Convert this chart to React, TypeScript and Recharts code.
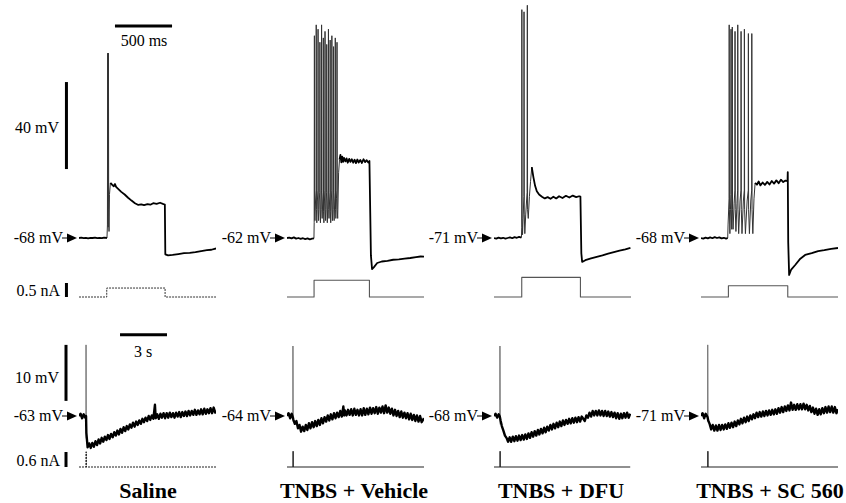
import { LineChart, Line, XAxis, YAxis, ReferenceLine } from "recharts";

type Pt = [number, number];

// ---------- labels ----------
const conditions = ["Saline", "TNBS + Vehicle", "TNBS + DFU", "TNBS + SC 560"];
const stepRest = [-68, -62, -71, -68]; // mV, step protocol (top row)
const slowRest = [-63, -64, -68, -71]; // mV, slow AHP protocol (bottom row)

// ---------- top row: 500 ms step, time ms / Vm mV ----------
const salinePre: Pt[] = [[0, -68], [20, -67.8], [40, -68.1], [60, -67.9], [80, -68.2], [100, -67.9], [120, -68], [140, -67.8], [160, -68.1], [180, -67.9], [200, -68.1], [220, -67.8], [245, -68]];
const salineSpikes: Pt[] = [[245, -68], [249, -62], [251, 17], [253, -58], [256, -63], [258, 17], [260, -55], [263, -65], [267, -48], [275, -42.7]];
const salinePost: Pt[] = [[275, -42.7], [290, -43.5], [305, -44.2], [315, -43.2], [325, -44.5], [345, -45.5], [370, -46.8], [400, -48], [430, -49.5], [460, -50.8], [490, -52], [520, -52.8], [545, -52.5], [570, -52.9], [600, -52.4], [625, -52.7], [650, -52], [680, -52.3], [710, -51.8], [740, -52.4], [752, -52.6], [756, -75.5], [780, -76], [820, -75.8], [870, -75.4], [920, -75], [970, -74.8], [1020, -74.5], [1070, -74], [1120, -73.6], [1160, -73.4], [1200, -72.8]];

const vehiclePre: Pt[] = [[0, -62], [20, -61.8], [40, -62.2], [60, -61.7], [80, -62.3], [100, -62], [120, -62.4], [140, -62.1], [160, -62.5], [180, -62.2], [200, -62.6], [220, -62.3], [236, -62.2]];
const vehicleSpikes: Pt[] = [[236, -62.2], [238, -55], [240, 31], [242, -50], [245, -54], [250, -45], [255, -40], [256, 36], [258, -49], [261, -55], [266, -45], [271, -40], [272, 34], [274, -49], [277, -54], [282, -45], [287, -41], [288, 28], [290, -49], [293, -55], [298, -45], [302, -40], [303, 36], [305, -49], [308, -53], [313, -45], [317, -41], [318, 30], [320, -50], [323, -55], [328, -45], [332, -40], [333, 33], [335, -49], [338, -54], [343, -45], [347, -41], [348, 27], [350, -49], [353, -55], [358, -45], [362, -40], [363, 34], [365, -49], [368, -53], [373, -45], [377, -41], [378, 29], [380, -50], [383, -55], [388, -45], [392, -40], [393, 31], [395, -49], [398, -54], [403, -45], [407, -40], [408, 26], [410, -49], [413, -54], [418, -45], [422, -41], [423, 30], [425, -49], [428, -53], [433, -44], [437, -40], [438, 28], [440, -49], [444, -53], [452, -32], [460, -26]];
const vehiclePost: Pt[] = [[460, -26], [468, -23.8], [476, -27.2], [484, -24.6], [492, -27], [500, -25.2], [512, -26.8], [522, -25.4], [532, -27.4], [545, -25.6], [556, -27], [568, -25.8], [580, -27.4], [592, -26], [604, -27.6], [616, -25.9], [628, -27.3], [642, -26.1], [656, -27.5], [670, -25.8], [684, -27.1], [698, -26.2], [712, -27.3], [722, -26.6], [735, -70], [745, -76.3], [760, -75.5], [790, -73.5], [830, -72.8], [880, -72.5], [930, -72], [980, -71.8], [1030, -71.5], [1080, -71.2], [1130, -70.8], [1170, -70.5], [1200, -70.6]];

const dfuPre: Pt[] = [[0, -71], [20, -71.3], [40, -70.8], [60, -71.2], [80, -70.9], [100, -71.3], [120, -71], [140, -70.7], [160, -71.1], [180, -70.6], [200, -70.9], [220, -70.5], [240, -70.8]];
const dfuSpikes: Pt[] = [[240, -70.8], [243, -66], [244, 34], [246, -62], [250, -69.5], [256, -60], [262, -52], [263, 33], [265, -60], [270, -69], [278, -60], [290, -50], [292, 36], [294, -58], [300, -62], [310, -52], [320, -45], [331, -38.4]];
const dfuPost: Pt[] = [[331, -38.4], [345, -43], [360, -47], [375, -49.5], [395, -51], [420, -52], [445, -52.8], [470, -52.2], [495, -53], [520, -52], [545, -52.8], [570, -51.8], [600, -52.6], [630, -51.6], [660, -52.4], [690, -51.5], [720, -52.2], [745, -51.8], [757, -52], [765, -78], [772, -82], [800, -81.2], [850, -80.4], [900, -79.7], [950, -79], [1000, -78.2], [1050, -77.5], [1100, -76.8], [1150, -76.2], [1195, -75.5]];

const sc560Pre: Pt[] = [[0, -68], [20, -68.3], [40, -67.8], [60, -68.2], [80, -67.7], [100, -68.1], [120, -67.6], [140, -68], [160, -67.7], [180, -68.2], [200, -67.9], [220, -68.3], [234, -68]];
const sc560Spikes: Pt[] = [[234, -68], [237, -62], [246, -50], [247, 30], [249, -55], [253, -66], [258, -55], [262, -48], [263, 28], [265, -55], [269, -64], [273, -50], [274, 29], [276, -55], [281, -64], [290, -52], [297, -46], [298, 27], [300, -55], [306, -65], [315, -52], [321, -46], [322, 30], [324, -55], [330, -66], [342, -51], [350, -46], [351, 27], [353, -55], [359, -66], [371, -51], [379, -46], [380, 28], [382, -55], [389, -66], [404, -51], [414, -46], [415, 26], [417, -55], [424, -66], [436, -51], [444, -46], [445, 26], [447, -55], [454, -66], [464, -50], [474, -42.7]];
const sc560Post: Pt[] = [[474, -42.7], [490, -43.5], [505, -42], [520, -43.8], [540, -42.5], [560, -43.6], [580, -42.2], [600, -43.4], [620, -41.8], [640, -43], [660, -41.5], [680, -42.8], [700, -41.2], [720, -42.3], [740, -41.6], [758, -41.8], [760, -37.7], [764, -70], [772, -85], [790, -82.5], [825, -80.4], [870, -77.5], [912, -75.8], [970, -75], [1026, -74], [1080, -73.6], [1140, -73], [1200, -72.6]];

// injected current, nA
const salineStep: Pt[] = [[0, 0], [243, 0], [243, 0.32], [754, 0.32], [754, 0], [1200, 0]];
const vehicleStep: Pt[] = [[0, 0], [237, 0], [237, 0.6], [722, 0.6], [722, 0], [1200, 0]];
const dfuStep: Pt[] = [[0, 0], [243, 0], [243, 0.7], [757, 0.7], [757, 0], [1200, 0]];
const sc560Step: Pt[] = [[0, 0], [240, 0], [240, 0.4], [760, 0.4], [760, 0], [1200, 0]];

// ---------- bottom row: slow AHP, time s / Vm mV ----------
const salineAhp: Pt[] = [[0, -63], [0.1, -62.6], [0.2, -63.4], [0.3, -62.7], [0.4, -63.3], [0.45, -63], [0.47, -66], [0.55, -68.6], [0.65, -67.9], [0.75, -68.7], [0.85, -67.8], [0.95, -68.5], [1.05, -67.5], [1.15, -68.2], [1.25, -67.2], [1.35, -67.9], [1.45, -66.9], [1.55, -67.6], [1.65, -66.7], [1.75, -67.3], [1.85, -66.4], [1.95, -67.1], [2.05, -66.2], [2.15, -66.8], [2.25, -65.9], [2.35, -66.5], [2.45, -65.6], [2.55, -66.3], [2.65, -65.3], [2.75, -66], [2.85, -65], [2.95, -65.7], [3.05, -64.8], [3.15, -65.4], [3.25, -64.5], [3.35, -65.1], [3.45, -64.2], [3.55, -64.9], [3.65, -64], [3.75, -64.6], [3.85, -63.8], [3.95, -64.4], [4.05, -63.5], [4.15, -64.1], [4.25, -63.3], [4.35, -63.9], [4.45, -63], [4.55, -63.7], [4.65, -62.9], [4.75, -63.5], [4.85, -61], [4.9, -63.4], [5.0, -62.7], [5.1, -63.5], [5.2, -62.6], [5.3, -63.3], [5.4, -62.5], [5.5, -63.4], [5.6, -62.5], [5.7, -63.3], [5.8, -62.4], [5.9, -63.2], [6.0, -62.5], [6.1, -63.3], [6.2, -62.4], [6.3, -63.1], [6.4, -62.3], [6.5, -63.2], [6.6, -62.3], [6.7, -63], [6.8, -62.2], [6.9, -63], [7.0, -62.1], [7.1, -62.9], [7.2, -62.1], [7.3, -62.8], [7.4, -61.9], [7.5, -62.8], [7.6, -62], [7.7, -62.7], [7.8, -61.8], [7.9, -62.7], [8.0, -61.7], [8.1, -62.6], [8.2, -61.8], [8.3, -62.5], [8.4, -61.6], [8.5, -62.5], [8.6, -61.5], [8.7, -62.4], [8.75, -62]];
const vehicleAhp: Pt[] = [[0, -64], [0.1, -63.5], [0.2, -64.4], [0.3, -63.6], [0.37, -64.2], [0.4, -64.6], [0.5, -65.4], [0.6, -64.9], [0.7, -66.2], [0.8, -65.6], [0.9, -66.8], [1.0, -65.9], [1.1, -66.7], [1.2, -65.6], [1.3, -66.5], [1.4, -65.3], [1.5, -66.2], [1.6, -65.1], [1.7, -66], [1.8, -64.9], [1.9, -65.8], [2.0, -64.7], [2.1, -65.6], [2.2, -64.4], [2.3, -65.3], [2.4, -64.2], [2.5, -65], [2.6, -63.9], [2.7, -64.8], [2.8, -63.7], [2.9, -64.6], [3.0, -63.5], [3.1, -64.4], [3.2, -63.4], [3.3, -64.2], [3.4, -63.1], [3.5, -64.1], [3.6, -62.3], [3.65, -63.9], [3.7, -63], [3.8, -63.9], [3.9, -62.9], [4.0, -63.8], [4.1, -62.8], [4.2, -63.9], [4.3, -62.7], [4.4, -63.8], [4.5, -62.9], [4.6, -63.9], [4.7, -62.8], [4.8, -63.9], [4.9, -62.6], [5.0, -63.8], [5.1, -62.7], [5.2, -63.7], [5.3, -62.5], [5.4, -63.6], [5.5, -62.6], [5.6, -63.5], [5.7, -62.4], [5.8, -63.6], [5.9, -62.5], [6.0, -63.4], [6.1, -62.3], [6.2, -63.5], [6.3, -62.1], [6.4, -63.4], [6.5, -62.5], [6.6, -63.6], [6.7, -62.7], [6.8, -63.9], [6.9, -62.9], [7.0, -64], [7.1, -63.1], [7.2, -64.2], [7.3, -63.2], [7.4, -64.3], [7.5, -63.4], [7.6, -64.4], [7.7, -63.5], [7.8, -64.6], [7.9, -63.6], [8.0, -64.7], [8.1, -63.8], [8.2, -64.9], [8.3, -63.9], [8.4, -65], [8.5, -64], [8.6, -65.1], [8.75, -64.4]];
const dfuAhp: Pt[] = [[0, -68], [0.1, -67.6], [0.2, -68.3], [0.3, -67.7], [0.37, -68.1], [0.42, -68.8], [0.5, -69.8], [0.6, -70.6], [0.7, -71.5], [0.8, -71.9], [0.9, -72.6], [1.0, -71.8], [1.1, -72.6], [1.2, -71.7], [1.3, -72.5], [1.4, -71.6], [1.5, -72.4], [1.6, -71.5], [1.7, -72.3], [1.8, -71.4], [1.9, -72.2], [2.0, -71.3], [2.1, -72.1], [2.2, -71.1], [2.3, -71.9], [2.4, -70.9], [2.5, -71.7], [2.6, -70.7], [2.7, -71.5], [2.8, -70.5], [2.9, -71.3], [3.0, -70.3], [3.1, -71.1], [3.2, -70.1], [3.3, -70.9], [3.4, -69.9], [3.5, -70.6], [3.6, -69.6], [3.7, -70.4], [3.8, -69.4], [3.9, -70.2], [4.0, -69.2], [4.1, -70], [4.2, -69], [4.3, -69.8], [4.4, -68.8], [4.5, -69.6], [4.6, -68.7], [4.7, -69.4], [4.8, -68.5], [4.9, -69.3], [5.0, -68.4], [5.1, -69.2], [5.2, -68.3], [5.3, -69.1], [5.4, -68.2], [5.5, -69], [5.6, -68.1], [5.8, -68.9], [5.9, -67.9], [6.0, -68.3], [6.1, -67.4], [6.2, -68.1], [6.3, -67.1], [6.4, -67.9], [6.5, -67.1], [6.6, -67.9], [6.7, -67], [6.8, -67.9], [6.9, -67.1], [7.0, -68], [7.1, -67.1], [7.2, -68], [7.3, -67.2], [7.4, -68.1], [7.5, -67.3], [7.6, -68.2], [7.7, -67.4], [7.8, -68.4], [7.9, -67.5], [8.0, -68.5], [8.1, -67.6], [8.2, -68.4], [8.3, -67.5], [8.4, -68.3], [8.5, -67.4], [8.6, -68.3], [8.7, -67.6]];
const sc560Ahp: Pt[] = [[0, -71], [0.1, -70.5], [0.2, -71.4], [0.3, -70.6], [0.42, -71.2], [0.46, -71.8], [0.55, -72.4], [0.65, -73.4], [0.75, -72.6], [0.85, -73.6], [0.95, -72.7], [1.05, -73.6], [1.15, -72.6], [1.25, -73.5], [1.35, -72.6], [1.45, -73.4], [1.55, -72.5], [1.65, -73.3], [1.75, -72.3], [1.85, -73.1], [1.95, -72.2], [2.05, -73], [2.15, -72], [2.25, -72.8], [2.35, -71.8], [2.45, -72.5], [2.55, -71.5], [2.65, -72.3], [2.75, -71.3], [2.85, -72.1], [2.95, -71.1], [3.05, -71.9], [3.15, -70.9], [3.25, -71.6], [3.35, -70.7], [3.45, -71.4], [3.55, -70.4], [3.65, -71.2], [3.75, -70.3], [3.85, -71.1], [3.95, -70.2], [4.05, -71], [4.15, -70.1], [4.25, -70.9], [4.35, -70], [4.45, -70.8], [4.55, -69.9], [4.65, -70.7], [4.75, -69.8], [4.85, -70.6], [4.95, -69.6], [5.05, -70.4], [5.15, -69.4], [5.25, -70.3], [5.35, -69.3], [5.45, -70.1], [5.55, -69.1], [5.65, -70], [5.75, -68.6], [5.85, -69.9], [5.95, -69], [6.05, -69.9], [6.15, -68.9], [6.25, -69.8], [6.35, -68.9], [6.45, -69.8], [6.55, -68.8], [6.65, -69.8], [6.75, -69], [6.85, -70], [6.95, -69.2], [7.05, -70.3], [7.15, -69.5], [7.25, -70.6], [7.35, -69.7], [7.45, -70.8], [7.55, -69.8], [7.65, -70.7], [7.75, -69.6], [7.85, -70.5], [7.95, -69.4], [8.05, -70.4], [8.15, -69.3], [8.25, -70.3], [8.35, -69.3], [8.45, -70.4], [8.55, -69.4], [8.65, -70.5], [8.75, -69.8]];

// truncated action potential at the pulse
const salineAp: Pt[] = [[0.45, -63], [0.45, -50.3], [0.46, -67]];
const vehicleAp: Pt[] = [[0.38, -64], [0.38, -51.5], [0.39, -65]];
const dfuAp: Pt[] = [[0.38, -68], [0.38, -55.5], [0.39, -69.5]];
const sc560Ap: Pt[] = [[0.43, -71], [0.43, -58.3], [0.44, -72]];

// brief current pulse, nA
const salinePulse: Pt[] = [[0, 0], [0.45, 0], [0.45, 0.6], [0.47, 0.6], [0.47, 0], [8.75, 0]];
const vehiclePulse: Pt[] = [[0, 0], [0.38, 0], [0.38, 0.62], [0.4, 0.62], [0.4, 0], [8.75, 0]];
const dfuPulse: Pt[] = [[0, 0], [0.38, 0], [0.38, 0.62], [0.4, 0.62], [0.4, 0], [8.7, 0]];
const sc560Pulse: Pt[] = [[0, 0], [0.43, 0], [0.43, 0.62], [0.45, 0.62], [0.45, 0], [8.75, 0]];

const stepPre = [salinePre, vehiclePre, dfuPre, sc560Pre];
const stepSpikes = [salineSpikes, vehicleSpikes, dfuSpikes, sc560Spikes];
const stepPost = [salinePost, vehiclePost, dfuPost, sc560Post];
const stepCurrent = [salineStep, vehicleStep, dfuStep, sc560Step];
const ahpTraces = [salineAhp, vehicleAhp, dfuAhp, sc560Ahp];
const ahpSpikes = [salineAp, vehicleAp, dfuAp, sc560Ap];
const ahpCurrent = [salinePulse, vehiclePulse, dfuPulse, sc560Pulse];

// ---------- layout ----------
const FONT = "'Liberation Serif', 'Times New Roman', serif";
const colX = [79, 287, 494, 701];
const TRACE_W = 137;
const MV_TOP = 87 / 40; // px per mV
const NA_TOP = 28; // px per nA
const MV_BOT = 5.6;
const NA_BOT = 25;

type Series = { data: Pt[]; stroke: string; width: number; dash?: string };
type ScaleBar = { from: Pt; to: Pt };

const toRows = (d: Pt[]) => d.map(([t, v]) => ({ t, v }));

function Trace(props: {
  col: number;
  top: number;
  height: number;
  xDomain: [number, number];
  yDomain: [number, number];
  series: Series[];
  bars?: ScaleBar[];
}) {
  const { col, top, height, xDomain, yDomain, series, bars = [] } = props;
  const pad = col === 0 ? colX[0] : 0;
  const left = col === 0 ? 0 : colX[col];
  return (
    <div style={{ position: "absolute", left, top }}>
      <LineChart
        width={TRACE_W + pad}
        height={height}
        margin={{ top: 0, right: 0, bottom: 0, left: pad }}
      >
        <XAxis type="number" dataKey="t" domain={xDomain} hide allowDataOverflow />
        <YAxis type="number" dataKey="v" domain={yDomain} hide allowDataOverflow />
        {series.map((s, i) => (
          <Line
            key={i}
            data={toRows(s.data)}
            dataKey="v"
            type="linear"
            stroke={s.stroke}
            strokeWidth={s.width}
            strokeDasharray={s.dash}
            strokeLinejoin="round"
            dot={false}
            activeDot={false}
            isAnimationActive={false}
          />
        ))}
        {bars.map((b, i) => (
          <ReferenceLine
            key={"b" + i}
            segment={[
              { x: b.from[0], y: b.from[1] },
              { x: b.to[0], y: b.to[1] },
            ]}
            stroke="#000"
            strokeWidth={3}
            ifOverflow="visible"
          />
        ))}
      </LineChart>
    </div>
  );
}

function RestArrow({ x0, y, text }: { x0: number; y: number; text: string }) {
  return (
    <g>
      <text x={x0 - 16} y={y + 5} textAnchor="end" fontSize={16}>
        {text}
      </text>
      <line x1={x0 - 17} y1={y} x2={x0 - 11} y2={y} stroke="#000" strokeWidth={1} />
      <polygon points={`${x0 - 12},${y - 4.5} ${x0 - 12},${y + 4.5} ${x0 - 2},${y}`} fill="#000" />
    </g>
  );
}

export default function App() {
  return (
    <div
      style={{
        position: "absolute",
        left: 0,
        top: 0,
        width: 846,
        height: 503,
        background: "#fff",
        fontFamily: FONT,
      }}
    >
      {conditions.map((_, c) => {
        const vTop = stepRest[c];
        const vBot = slowRest[c];
        return (
          <div key={c}>
            <Trace
              col={c}
              top={0}
              height={290}
              xDomain={[0, 1200]}
              yDomain={[vTop - 52 / MV_TOP, vTop + 238 / MV_TOP]}
              series={[
                { data: stepSpikes[c], stroke: "#333", width: 1 },
                { data: stepPre[c], stroke: "#000", width: 1.8 },
                { data: stepPost[c], stroke: "#000", width: 1.8 },
              ]}
              bars={
                c === 0
                  ? [
                      { from: [-110, -36.3], to: [-110, 3.7] },
                      { from: [315, 29.5], to: [815, 29.5] },
                    ]
                  : []
              }
            />
            <Trace
              col={c}
              top={270}
              height={35}
              xDomain={[0, 1200]}
              yDomain={[-8 / NA_TOP, 27 / NA_TOP]}
              series={[
                c === 0
                  ? { data: stepCurrent[c], stroke: "#333", width: 1, dash: "2 1" }
                  : { data: stepCurrent[c], stroke: "#555", width: 1.1 },
              ]}
              bars={c === 0 ? [{ from: [-110, 0], to: [-110, 0.5] }] : []}
            />
            <Trace
              col={c}
              top={325}
              height={130}
              xDomain={[0, 8.75]}
              yDomain={[vBot - 39 / MV_BOT, vBot + 91 / MV_BOT]}
              series={[
                { data: ahpSpikes[c], stroke: "#777", width: 1 },
                { data: ahpTraces[c], stroke: "#000", width: 2.4 },
              ]}
              bars={
                c === 0
                  ? [
                      { from: [-0.83, -60.3], to: [-0.83, -50.3] },
                      { from: [2.62, -48.5], to: [5.62, -48.5] },
                    ]
                  : []
              }
            />
            <Trace
              col={c}
              top={440}
              height={35}
              xDomain={[0, 8.75]}
              yDomain={[-8 / NA_BOT, 27 / NA_BOT]}
              series={[
                c === 0
                  ? { data: ahpCurrent[c], stroke: "#222", width: 1.2, dash: "2 1" }
                  : { data: ahpCurrent[c], stroke: "#222", width: 1.2 },
              ]}
              bars={c === 0 ? [{ from: [-0.83, 0], to: [-0.83, 0.6] }] : []}
            />
          </div>
        );
      })}

      <svg
        width={846}
        height={503}
        style={{ position: "absolute", left: 0, top: 0, pointerEvents: "none" }}
        fontFamily={FONT}
      >
        <text x={144} y={46} textAnchor="middle" fontSize={16}>500 ms</text>
        <text x={59} y={133} textAnchor="end" fontSize={16}>40 mV</text>
        <text x={60} y={296} textAnchor="end" fontSize={16}>0.5 nA</text>
        <text x={143} y={357} textAnchor="middle" fontSize={16}>3 s</text>
        <text x={59} y={383} textAnchor="end" fontSize={16}>10 mV</text>
        <text x={60} y={466} textAnchor="end" fontSize={16}>0.6 nA</text>
        {conditions.map((name, c) => (
          <g key={name}>
            <RestArrow x0={colX[c]} y={238} text={`${stepRest[c]} mV`} />
            <RestArrow x0={colX[c]} y={416} text={`${slowRest[c]} mV`} />
          </g>
        ))}
        {conditions.map((name, c) => (
          <text
            key={"n" + name}
            x={[148, 354, 561, 770][c]}
            y={498}
            textAnchor="middle"
            fontSize={22}
            fontWeight="bold"
          >
            {name}
          </text>
        ))}
      </svg>
    </div>
  );
}
